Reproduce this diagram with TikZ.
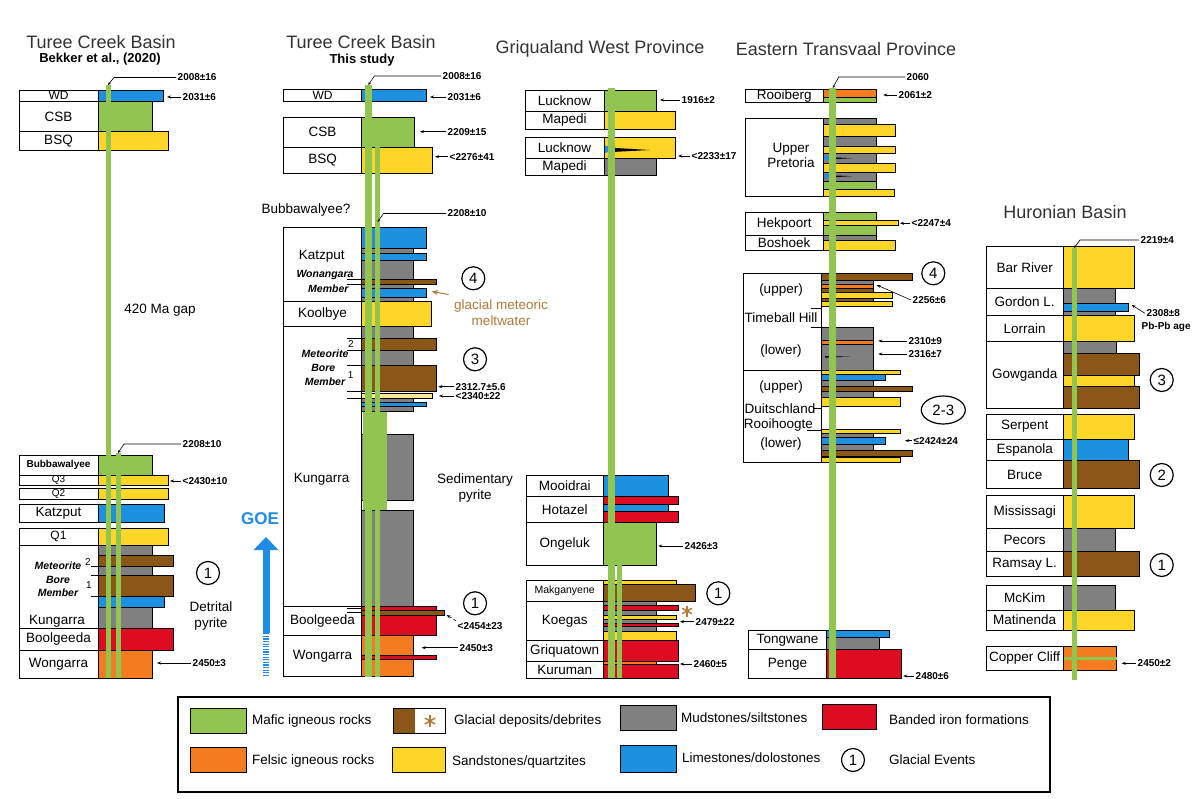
\documentclass[tikz,border=0pt]{standalone}
\usepackage{fontspec}
\setmainfont{Liberation Sans}
\usetikzlibrary{arrows.meta,calc,shapes.geometric}
\definecolor{maf}{RGB}{146,196,80}
\definecolor{fel}{RGB}{243,124,33}
\definecolor{snd}{RGB}{255,214,40}
\definecolor{mud}{RGB}{128,128,128}
\definecolor{lim}{RGB}{30,144,224}
\definecolor{gla}{RGB}{139,87,24}
\definecolor{bif}{RGB}{222,12,32}
\definecolor{glt}{RGB}{176,122,60}
\definecolor{goeb}{RGB}{30,140,230}
\definecolor{pale}{RGB}{250,232,150}
\tikzset{
 boxline/.style={draw=black,line width=0.8pt,fill=white},
 lyr/.style={draw=black,line width=0.5pt},
 lab/.style={font=\fontsize{13.5}{15}\selectfont,inner sep=0pt},
 smalllab/.style={font=\fontsize{10}{11}\selectfont\bfseries},
 qlab/.style={font=\fontsize{10}{11}\selectfont},
 mem/.style={font=\fontsize{10.5}{11}\selectfont\bfseries\itshape,inner sep=0pt},
 age/.style={font=\fontsize{10}{11}\selectfont\bfseries,inner sep=1.5pt},
 agearr/.style={draw=black,line width=0.6pt,-{Stealth[length=4pt,width=3pt]}},
 leader/.style={draw=black,line width=0.6pt,-{Stealth[length=3pt,width=2.5pt]}},
 ttl/.style={font=\fontsize{18}{20}\selectfont,text=black!80},
 subt/.style={font=\fontsize{13}{15}\selectfont\bfseries},
 mline/.style={draw=maf,line width=6pt},
 evt/.style={circle,draw=black,line width=1.2pt,minimum size=23pt,inner sep=0pt,font=\fontsize{15}{17}\selectfont},
 tickln/.style={draw=black,line width=0.6pt},
 note/.style={font=\fontsize{13.5}{16}\selectfont,align=center},
 legtext/.style={font=\fontsize{13.5}{15}\selectfont,anchor=west,inner sep=0pt},
 astline/.style={draw=glt,line width=1.4pt},
}
\newcommand\ubox[7][]{\draw[boxline] (#3,#4) rectangle (#5,#6);
  \node[lab,#1] (#2) at ({(#3+#5)/2},{(#4+#6)/2}) {#7};}
\newcommand\lay[5]{\draw[lyr,fill=#5] (#1,#2) rectangle (#3,#4);}
\newcommand\age[5]{\node[age,anchor=west] (#1) at (#2,#3) {#5};
  \coordinate (#1h) at (#4,#3);
  \draw[agearr] (#1.west) -- (#1h);}
\newcommand\lead[6]{\node[age,anchor=west] (#1) at (#4,#5) {#6};
  \coordinate (#1a) at (#2,#3);
  \draw[leader] (#1.west) -- ($(#1a |- #1.west)+(6,0)$) -- (#1a);}
\newcommand\astk[4]{\coordinate (#1) at (#2,#3);
  \foreach \ang in {90,30,150}{\draw[astline] ($(#1)+(\ang:#4)$) -- ($(#1)+(\ang+180:#4)$);}}
\begin{document}
\begin{tikzpicture}[x=1pt,y=-1pt]
\fill[white] (0,0) rectangle (1198,799);
\useasboundingbox (0,0) rectangle (1198,799);

% ================= Column 1 =================
\node[ttl] (t1) at (101,42) {Turee Creek Basin};
\node[subt] (s1) at (100,59) {Bekker et al., (2020)};
\lay{98}{90}{163}{101.7}{lim}
\lay{98}{101.7}{152}{131.7}{maf}
\lay{98}{131.7}{168}{150.7}{snd}
\ubox[font=\fontsize{12}{13}\selectfont]{wd1}{19}{90}{98}{101.7}{WD}
\ubox{csb1}{19}{101.7}{98}{131.7}{CSB}
\ubox{bsq1}{19}{131.7}{98}{150.7}{BSQ}
\node[note] (gap1) at (160,310) {420 Ma gap};

\lay{98}{455}{152}{475}{maf}
\lay{98}{475}{168}{485}{snd}
\lay{98}{488.3}{168}{499.3}{snd}
\lay{98}{504.3}{164}{522.7}{lim}
\lay{98}{528}{168}{545}{snd}
\lay{98}{545}{152}{555}{mud}
\lay{98}{555}{173}{566.7}{gla}
\lay{98}{566.7}{152}{575}{mud}
\lay{98}{575}{173}{596}{gla}
\lay{98}{596}{164}{607.3}{lim}
\lay{98}{607.3}{152}{628.3}{mud}
\lay{98}{628.3}{173}{650}{bif}
\lay{98}{650}{152}{678.3}{fel}
\ubox[smalllab]{bub1}{19}{455}{98}{475}{Bubbawalyee}
\ubox[qlab]{q31}{19}{475}{98}{485}{Q3}
\ubox[qlab]{q21}{19}{488.3}{98}{499.3}{Q2}
\ubox{kat1}{19}{504.3}{98}{522.7}{Katzput}
\ubox[font=\fontsize{12}{13}\selectfont]{q11}{19}{528}{98}{545}{Q1}
\draw[boxline] (19,545) rectangle (98,628.3);
\ubox{boo1}{19}{628.3}{98}{650}{Boolgeeda}
\ubox{won1}{19}{650}{98}{678.3}{Wongarra}
\node[mem] (met1) at (58,566) {Meteorite};
\node[mem] (bor1) at (58,579.5) {Bore};
\node[mem] (mbr1) at (58,593) {Member};
\node[qlab] (n21) at (88,562) {2};
\node[qlab] (n11) at (89,585.5) {1};
\draw[tickln] (91,566.7) -- (98,566.7);
\draw[tickln] (91,575) -- (98,575);
\draw[tickln] (91,596) -- (98,596);
\node[lab] (kun1) at (57,621.5) {Kungarra};
\node[evt] (c1a) at (208,573) {1};
\node[note] (det1) at (211,616) {Detrital\\pyrite};

\draw[mline,line width=5pt] (108,85) -- (108,678.3);
\draw[mline,line width=5pt] (118,453) -- (118,678.3);
\lead{l1a}{108}{85}{176}{77.5}{2008±16}
\age{a1b}{181}{97}{167}{2031±6}
\lead{l1b}{118}{453}{181}{444}{2208±10}
\age{a1c}{181}{481}{170}{<2430±10}
\age{a1d}{191}{663}{157}{2450±3}

% ================= Column 2 =================
\node[ttl] (t2) at (361,42) {Turee Creek Basin};
\node[subt] (s2) at (362,60) {This study};
\lay{361.7}{89}{426.7}{101.7}{lim}
\lay{361.7}{117.3}{414.3}{147.3}{maf}
\lay{361.7}{147.3}{432.7}{173.3}{snd}
\ubox[font=\fontsize{12}{13}\selectfont]{wd2}{283.3}{89}{361.7}{101.7}{WD}
\ubox{csb2}{283.3}{117.3}{361.7}{147.3}{CSB}
\ubox{bsq2}{283.3}{147.3}{361.7}{173.3}{BSQ}
\node[note] (bub2) at (306,210) {Bubbawalyee?};

% Katzput
\lay{361.7}{227.3}{426.7}{248.3}{lim}
\lay{361.7}{248.3}{413.3}{253.3}{mud}
\lay{361.7}{253.3}{426.7}{260}{lim}
\lay{361.7}{260}{413.3}{279.3}{mud}
\lay{361.7}{279.3}{436.7}{284}{gla}
\lay{361.7}{284}{413.3}{288.3}{mud}
\lay{361.7}{288.3}{426.7}{297.3}{lim}
\lay{361.7}{297.3}{413.3}{301.7}{mud}
\lay{361.7}{301.7}{431.7}{326}{snd}
\lay{361.7}{326}{413.3}{338.3}{mud}
\lay{361.7}{338.3}{436.7}{350}{gla}
\lay{361.7}{350}{413.3}{365.7}{mud}
\lay{361.7}{365.7}{436.7}{391.7}{gla}
\lay{361.7}{393.3}{432.7}{398.3}{pale}
\lay{361.7}{398.3}{413.3}{402.7}{mud}
\lay{361.7}{402.7}{426.7}{406}{lim}
\lay{361.7}{406}{413.3}{411.7}{mud}
\lay{361.7}{434}{413.3}{500.7}{mud}
\lay{361.7}{510.7}{413.3}{606.7}{mud}
\lay{361.7}{606.7}{436.7}{635}{bif}
\lay{361.7}{610}{444}{615.7}{gla}
\lay{361.7}{635}{413.3}{676.7}{fel}
\lay{361.7}{655}{436.7}{659}{bif}

\draw[boxline] (283.3,227.3) rectangle (361.7,301.7);
\node[lab] (kat2) at (321.7,256.7) {Katzput};
\node[mem] (won2a) at (325,275) {Wonangara};
\node[mem] (won2b) at (328.3,288.3) {Member};
\ubox{koo2}{283.3}{301.7}{361.7}{326}{Koolbye}
\draw[boxline] (283.3,326) rectangle (361.7,606.7);
\node[mem] (met2) at (325,353.3) {Meteorite};
\node[qlab] (n22) at (351,344) {2};
\node[mem] (bor2) at (323.3,368.3) {Bore};
\node[mem] (mbr2) at (325,381.7) {Member};
\node[qlab] (n12) at (350.7,375) {1};
\node[lab] (kun2) at (321.7,479.3) {Kungarra};
\ubox{boo2}{283.3}{606.7}{361.7}{635}{Boolgeeda}
\ubox{won2}{283.3}{635}{361.7}{676.7}{Wongarra}
\foreach \yy in {279.3,284,338.3,350,365.7,391.7,398.3,608.5,612}
  \draw[tickln] (347,\yy) -- (361.7,\yy);

\fill[maf] (363,411.7) rectangle (386.7,510);
\draw[mline,line width=6.5pt] (368.3,85) -- (368.3,676.7);
\draw[mline,line width=5pt] (377.5,147.3) -- (377.5,676.7);

\lead{l2a}{368.3}{85}{441}{76}{2008±16}
\age{a2b}{446}{97}{430}{2031±6}
\age{a2c}{446}{131.7}{420}{2209±15}
\age{a2d}{448}{156.7}{435}{<2276±41}
\lead{l2e}{377.5}{222}{446}{213.5}{2208±10}
\age{a2f}{454}{386.7}{438.3}{2312.7±5.6}
\age{a2g}{454}{396}{439}{<2340±22}
\node[age,anchor=west] (a2h) at (456,626) {<2454±23};
\coordinate (a2hh) at (446.7,615);
\draw[agearr,densely dashed] (a2h.north west) -- (a2hh);
\age{a2i}{458}{647.7}{421.7}{2450±3}
\node[evt] (c2a) at (473.3,278.3) {4};
\node[evt] (c2b) at (475,359.3) {3};
\node[evt] (c2c) at (475,603.3) {1};
\node[note,text=glt] (gmm) at (501,313) {glacial meteoric\\meltwater};
\coordinate (gmh) at (431.7,291.5);
\draw[draw=glt,line width=1pt,-{Stealth[length=6pt,width=5pt]}] (gmm.north west) ++(-2,-2) -- (gmh);
\node[note] (sed) at (475,488) {Sedimentary\\pyrite};

\node[font=\fontsize{17}{19}\selectfont\bfseries,text=goeb] (goe) at (260,519) {GOE};
\coordinate (goeB) at (266,633);
\coordinate (goeT) at (266,537);
\draw[goeb,line width=7pt,-{Triangle[length=13pt,width=24pt]}] (goeB) -- (goeT);
\draw[goeb,line width=6pt,dash pattern=on 1.3pt off 1.3pt] (266,676) -- (goeB);

% ================= Column 3 =================
\node[ttl] (t3) at (600,49) {Griqualand West Province};
\lay{604}{90}{656}{111}{maf}
\lay{604}{111}{675}{129.3}{snd}
\lay{604}{137.3}{675}{158.3}{snd}
\lay{604}{158.3}{656}{175.7}{mud}
\fill[lim] (604,145.5) -- (624,149.5) -- (604,153) -- cycle;
\fill[black] (612,147.8) -- (650,150) -- (612,152) -- cycle;
\ubox{luc3a}{525}{90}{604}{111}{Lucknow}
\ubox{map3a}{525}{111}{604}{129.3}{Mapedi}
\ubox{luc3b}{525}{137.3}{604}{158.3}{Lucknow}
\ubox{map3b}{525}{158.3}{604}{175.7}{Mapedi}

\lay{603.3}{475}{668.3}{496.7}{lim}
\lay{603.3}{496.7}{678.3}{504.3}{bif}
\lay{603.3}{504.3}{668.3}{511}{lim}
\lay{603.3}{511}{678.3}{522.7}{bif}
\lay{603.3}{522.7}{656.7}{565}{maf}
\lay{603.3}{580.7}{676.7}{584}{snd}
\lay{603.3}{584}{695}{601.7}{gla}
\lay{603.3}{601.7}{656.7}{605.7}{mud}
\lay{603.3}{605.7}{678.3}{610.7}{bif}
\lay{603.3}{610.7}{656.7}{615.7}{mud}
\lay{603.3}{615.7}{676.7}{619.3}{snd}
\lay{603.3}{619.3}{656.7}{623.3}{mud}
\lay{603.3}{623.3}{678.3}{626.7}{bif}
\lay{603.3}{626.7}{656.7}{631.7}{mud}
\lay{603.3}{631.7}{676.7}{640}{snd}
\lay{603.3}{640}{678.3}{661.7}{bif}
\lay{603.3}{661.7}{656.7}{664.5}{fel}
\lay{603.3}{664.5}{678.3}{678.3}{bif}
\ubox{moo3}{526}{475}{603.3}{496.7}{Mooidrai}
\ubox{hot3}{526}{496.7}{603.3}{522.7}{Hotazel}
\ubox{ong3}{526}{522.7}{603.3}{565}{Ongeluk}
\ubox[font=\fontsize{10.5}{12}\selectfont]{mak3}{526}{580.7}{603.3}{601.7}{Makganyene}
\ubox{koe3}{526}{601.7}{603.3}{640}{Koegas}
\ubox{gri3}{526}{640}{603.3}{661.7}{Griquatown}
\ubox{kur3}{526}{661.7}{603.3}{678.3}{Kuruman}

\draw[mline,line width=6.5pt] (611.5,88) -- (611.5,678.3);
\draw[mline,line width=5pt] (619.5,565) -- (619.5,678.3);
\astk{ast3}{687}{611}{5.5}
\node[evt] (c3a) at (718.3,593.3) {1};
\age{a3a}{680}{100}{660}{1916±2}
\age{a3b}{690}{156}{678}{<2233±17}
\age{a3c}{683}{546}{658.3}{2426±3}
\age{a3d}{694}{621.7}{680}{2479±22}
\age{a3e}{692}{664}{680}{2460±5}

% ================= Column 4 =================
\node[ttl] (t4) at (846,49) {Eastern Transvaal Province};
\lay{823.3}{89.3}{876.7}{97.3}{fel}
\lay{823.3}{97.3}{876.7}{102.7}{maf}
\lay{823.3}{118.3}{876.7}{124}{mud}
\lay{823.3}{124}{895.7}{136}{snd}
\lay{823.3}{136}{876.7}{146}{mud}
\lay{823.3}{146}{895.7}{153.3}{snd}
\lay{823.3}{153.3}{876.7}{163.3}{mud}
\lay{823.3}{163.3}{895.7}{172.7}{snd}
\lay{823.3}{172.7}{876.7}{181.7}{mud}
\lay{823.3}{181.7}{876.7}{189.3}{maf}
\lay{823.3}{189.3}{894}{196}{snd}
\fill[lim] (823.3,156) rectangle (829,160.5);
\fill[black] (829,157.2) -- (852,158.2) -- (829,159.4) -- cycle;
\fill[lim] (823.3,174) rectangle (829,178.5);
\fill[black] (829,175.2) -- (852,176.2) -- (829,177.4) -- cycle;
\lay{823.3}{212.7}{876.7}{220}{maf}
\lay{823.3}{220}{898.3}{225.7}{snd}
\lay{823.3}{225.7}{876.7}{235}{maf}
\lay{823.3}{235}{876.7}{240.7}{mud}
\lay{823.3}{240.7}{895.7}{250}{snd}
\ubox{roo4}{745}{89.3}{823.3}{102.7}{Rooiberg}
\draw[boxline] (745,118.3) rectangle (823.3,196);
\node[lab,align=center] (upp4) at (791,155) {Upper\\Pretoria};
\ubox{hek4}{745}{212.7}{823.3}{235}{Hekpoort}
\ubox{bos4}{745}{235}{823.3}{250}{Boshoek}

% Timeball Hill
\lay{821}{273.3}{912.7}{280.7}{gla}
\lay{821}{280.7}{873.3}{284.3}{mud}
\lay{821}{284.3}{873.3}{288.3}{fel}
\lay{821}{288.3}{873.3}{292.5}{gla}
\lay{821}{292.5}{892.7}{298}{snd}
\lay{821}{298}{873.3}{301.5}{gla}
\lay{821}{301.5}{892.7}{306.7}{snd}
\lay{821}{327.7}{873.3}{370}{mud}
\lay{821}{340}{873.3}{344.3}{fel}
\fill[black] (825,356) -- (850,356.7) -- (825,357.6) -- cycle;
% Duitschland
\lay{821}{370}{900.7}{374.3}{snd}
\lay{821}{374.3}{885.7}{380}{lim}
\lay{821}{380}{873.3}{386}{mud}
\lay{821}{386}{912.7}{391.7}{gla}
\lay{821}{391.7}{873.3}{397.3}{mud}
\lay{821}{397.3}{900}{406.7}{snd}
\lay{821}{429.3}{900.7}{433.3}{snd}
\lay{821}{433.3}{873.3}{437.7}{mud}
\lay{821}{437.7}{885.7}{444}{lim}
\lay{821}{444}{873.3}{450.7}{mud}
\lay{821}{450.7}{912.7}{456.7}{gla}
\lay{821}{457.3}{900.7}{462.7}{snd}
\draw[boxline] (743.3,273.3) rectangle (821,370);
\node[lab] (tup4) at (781,290) {(upper)};
\node[lab] (tbh4) at (781,317.7) {Timeball Hill};
\node[lab] (tlo4) at (781,351) {(lower)};
\draw[tickln] (811,308.3) -- (821,308.3);
\draw[tickln] (811,327.7) -- (821,327.7);
\draw[boxline] (743.3,370) rectangle (821,462.7);
\node[lab] (dup4) at (781,387.3) {(upper)};
\node[lab] (dui4) at (780,408.3) {Duitschland};
\node[lab] (roo4b) at (778.3,425) {Rooihoogte};
\node[lab] (dlo4) at (781,444) {(lower)};
\draw[tickln] (813,408.3) -- (821,408.3);
\draw[tickln] (807,430.7) -- (821,430.7);

\lay{826.7}{630.7}{889.3}{637.3}{lim}
\lay{826.7}{637.3}{879.3}{649.3}{mud}
\lay{826.7}{649.3}{901.7}{678.3}{bif}
\ubox{ton4}{748.3}{630.7}{826.7}{649.3}{Tongwane}
\ubox{pen4}{748.3}{649.3}{826.7}{678.3}{Penge}

\draw[mline,line width=6.5pt] (832.7,88) -- (832.7,678.3);
\lead{l4a}{832.7}{88}{905}{77}{2060}
\age{a4b}{897}{95}{883.3}{2061±2}
\age{a4c}{910}{223.3}{900}{<2247±4}
\node[age,anchor=west] (a4d) at (911,300) {2256±6};
\coordinate (a4dh) at (876.7,285);
\draw[agearr] (a4d.west) -- (a4dh);
\age{a4e}{907}{341}{878.3}{2310±9}
\age{a4f}{907}{354}{878.3}{2316±7}
\age{a4g}{912}{440.7}{905}{≤2424±24}
\age{a4h}{914}{676}{903.3}{2480±6}
\node[evt] (c4a) at (933.3,273.3) {4};
\node[ellipse,draw=black,line width=1.2pt,minimum width=44pt,minimum height=28pt,inner sep=0pt,font=\fontsize{15}{17}\selectfont] (c4b) at (943.3,410) {2-3};

% ================= Column 5 =================
\node[ttl] (t5) at (1065,211.7) {Huronian Basin};
\lay{1063.3}{246.7}{1134}{288.3}{snd}
\lay{1063.3}{288.3}{1115}{303.3}{mud}
\lay{1063.3}{303.3}{1128.3}{311.7}{lim}
\lay{1063.3}{311.7}{1115}{315}{mud}
\lay{1063.3}{315}{1134}{341.7}{snd}
\lay{1063.3}{341.7}{1116.7}{353.3}{mud}
\lay{1063.3}{353.3}{1139}{375}{gla}
\lay{1063.3}{375}{1134}{386.7}{snd}
\lay{1063.3}{386.7}{1139}{408.3}{gla}
\lay{1063.3}{414}{1134}{439.3}{snd}
\lay{1063.3}{439.3}{1128.3}{460.7}{lim}
\lay{1063.3}{460.7}{1139}{488.3}{gla}
\lay{1063.3}{495}{1134}{528.3}{snd}
\lay{1063.3}{528.3}{1115}{551.7}{mud}
\lay{1063.3}{551.7}{1139}{576.7}{gla}
\lay{1063.3}{585}{1115}{610}{mud}
\lay{1063.3}{610}{1134}{630}{snd}
\lay{1063.3}{646.7}{1116.7}{670}{fel}
\fill[maf] (1063.3,656.7) rectangle (1116.7,660);
\ubox{bar5}{986}{246.7}{1063.3}{288.3}{Bar River}
\ubox{gor5}{986}{288.3}{1063.3}{315}{Gordon L.}
\ubox{lor5}{986}{315}{1063.3}{341.7}{Lorrain}
\ubox{gow5}{986}{341.7}{1063.3}{408.3}{Gowganda}
\ubox{ser5}{986}{414}{1063.3}{439.3}{Serpent}
\ubox{esp5}{986}{439.3}{1063.3}{460.7}{Espanola}
\ubox{bru5}{986}{460.7}{1063.3}{488.3}{Bruce}
\ubox{mis5}{986}{495}{1063.3}{528.3}{Mississagi}
\ubox{pec5}{986}{528.3}{1063.3}{551.7}{Pecors}
\ubox{ram5}{986}{551.7}{1063.3}{576.7}{Ramsay L.}
\ubox{mck5}{986}{585}{1063.3}{610}{McKim}
\ubox{mat5}{986}{610}{1063.3}{630}{Matinenda}
\ubox{cop5}{986}{646.7}{1063.3}{670}{Copper Cliff}
\draw[mline,line width=5pt] (1074,248) -- (1074,680);
\lead{l5a}{1074}{248}{1139}{240}{2219±4}
\node[age,anchor=west] (a5b) at (1145,313.3) {2308±8};
\node[age,anchor=west] (a5bb) at (1140,327) {Pb-Pb age};
\coordinate (a5bh) at (1131.7,305);
\draw[agearr] (a5b.west) -- (a5bh);
\age{a5c}{1136}{663.3}{1121.7}{2450±2}
\node[evt] (c5a) at (1161.7,380) {3};
\node[evt] (c5b) at (1161.7,475) {2};
\node[evt] (c5c) at (1161.7,565) {1};

% ================= Legend =================
\draw[draw=black,line width=2pt] (178,697) rectangle (1050,792);
\lay{190}{708}{246}{733}{maf}
\node[legtext] (lg1) at (252,721) {Mafic igneous rocks};
\fill[gla] (393,708) rectangle (415,733);
\draw[lyr] (393,708) rectangle (445,733);
\astk{lgast}{430}{721}{6}
\node[legtext] (lg2) at (454,721) {Glacial deposits/debrites};
\lay{620}{705}{676}{730}{mud}
\node[legtext] (lg3) at (681,718) {Mudstones/siltstones};
\lay{822}{704}{876}{729}{bif}
\node[legtext] (lg4) at (889,720) {Banded iron formations};
\lay{190}{747}{246}{772}{fel}
\node[legtext] (lg5) at (252,761) {Felsic igneous rocks};
\lay{392}{747}{445}{772}{snd}
\node[legtext] (lg6) at (452,762) {Sandstones/quartzites};
\lay{620}{745}{676}{772}{lim}
\node[legtext] (lg7) at (682,758) {Limestones/dolostones};
\node[evt] (lgc) at (853,760) {1};
\node[legtext] (lg8) at (889,760) {Glacial Events};
\end{tikzpicture}
\end{document}
